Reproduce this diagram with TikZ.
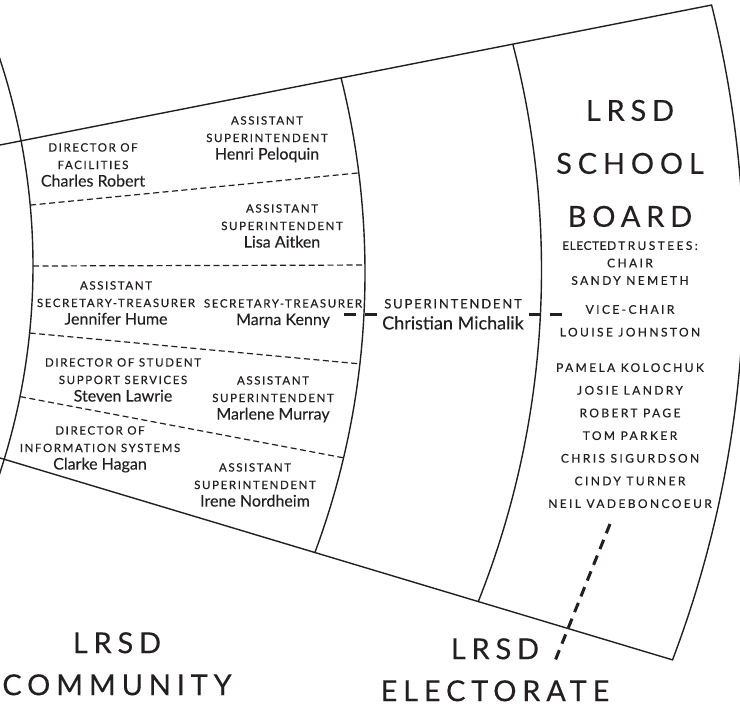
\documentclass[tikz,border=0pt]{standalone}
\usepackage{fontspec}
\usepackage{xcolor}
\usepackage{tikz}
\usetikzlibrary{calc,positioning}

\setmainfont{Lato}
\newfontfamily\capsfont[LetterSpace=14, FakeBold=0.4]{Lato}
\newfontfamily\listfont[LetterSpace=20, FakeBold=0.4]{Lato}
\newfontfamily\tightcaps[LetterSpace=4, FakeBold=0.4]{Lato}
\newfontfamily\namefont[FakeBold=0.2]{Lato}
\newfontfamily\bigfont[LetterSpace=20, FakeBold=0.2]{Lato}
\definecolor{ink}{HTML}{231F20}
\newcommand{\who}[1]{{\fontsize{16}{17.5}\namefont #1}}

\begin{document}
\begin{tikzpicture}[
	%	style def
    x=1pt, y=-1pt,
    border line/.style={line width=1.4pt, color=ink},
    split line/.style={line width=1.2pt, color=ink, dash pattern=on 6pt off 3.5pt},
    link/.style={line width=3pt, color=ink, dash pattern=on 12pt off 9pt},
    vote/.style={line width=3pt, color=ink, dash pattern=on 10pt off 7pt},
    post/.style={align=center, inner sep=0pt, anchor=north, font=\fontsize{11.5}{17.5}\capsfont},
    title/.style={align=center, inner sep=0pt, anchor=north, font=\fontsize{29}{42}\bigfont},
    every node/.style={color=ink}
    ]
    \useasboundingbox (0,0) rectangle (740,706);

	% centres of the arcs and corners of the wedge
	\coordinate (L) at (-630,266);
	\coordinate (B) at (-436,273);
	\coordinate (A) at (-356,270);
	\path (A) ++(-13.94:1100) coordinate (TR);
	\path (A) ++(20.76:1100) coordinate (BR);
	\coordinate (TL) at (0,145);
	\coordinate (BL) at (0,458);

	% outer wedge
	\draw[border line] (TL) -- (TR) arc[start angle=-13.94, end angle=20.76, radius=1100] -- (BL);
	\draw[border line] (L) ++(-19:663) arc[start angle=-19, end angle=19, radius=663];

	% inner arcs
	\begin{scope}
		\clip (TL) -- (TR) -- (BR) -- (BL) -- cycle;
		\draw[border line] (B) circle[radius=801];
		\draw[border line] (A) circle[radius=897.5];
	\end{scope}

	% dashed splits between the staff
	\begin{scope}
		\clip (B) circle[radius=801];
		\draw[split line] (L) ++(-5.27:663) -- (368,172);
		\draw[split line] (L) ++(0:663) -- (377,265);
		\draw[split line] (L) ++(5.8:663) -- (372,365);
		\draw[split line] (L) ++(11.36:663) -- (355,460);
	\end{scope}

	% staff
	\node[post] (robert) at (93,143) {DIRECTOR OF\\FACILITIES\\\who{Charles Robert}};
	\node[post] (peloquin) at (267,116) {ASSISTANT\\SUPERINTENDENT\\\who{Henri Peloquin}};
	\node[post] (aitken) at (282,204) {ASSISTANT\\SUPERINTENDENT\\\who{Lisa Aitken}};
	\node[post] (hume) at (116,281) {ASSISTANT\\SECRETARY-TREASURER\\\who{Jennifer Hume}};
	\node[post] (kenny) at (283,299) {SECRETARY-TREASURER\\\who{Marna Kenny}};
	\node[post] (lawrie) at (123,358) {DIRECTOR OF STUDENT\\SUPPORT SERVICES\\\who{Steven Lawrie}};
	\node[post] (murray) at (273,376) {ASSISTANT\\SUPERINTENDENT\\\who{Marlene Murray}};
	\node[post] (hagan) at (100,426) {DIRECTOR OF\\INFORMATION SYSTEMS\\\who{Clarke Hagan}};
	\node[post] (nordheim) at (255,463) {ASSISTANT\\SUPERINTENDENT\\\who{Irene Nordheim}};
	\node[post, outer sep=5pt, font=\fontsize{13}{21}\capsfont] (michalik) at (453,294)
		{SUPERINTENDENT\\{\fontsize{18}{21}\namefont Christian Michalik}};

	% board
	\node[title, font=\fontsize{29}{53}\bigfont] (board) at (630,99.6) {LRSD\\SCHOOL\\BOARD};
	\node[post, font=\fontsize{12}{22.67}\listfont] (trustees) at (630,241)
		{{\tightcaps ELECTED}\,TRUSTEES:\\[-5.2pt] CHAIR\\[-5.2pt] SANDY NEMETH\\[6.3pt]
		 VICE-CHAIR\\ LOUISE JOHNSTON\\[12.8pt] PAMELA KOLOCHUK\\ JOSIE LANDRY\\ ROBERT PAGE\\
		 TOM PARKER\\ CHRIS SIGURDSON\\ CINDY TURNER\\ NEIL VADEBONCOEUR};

	% outside
	\node[title] (community) at (117,632) {LRSD\\COMMUNITY};
	\node[title] (electorate) at (495,638) {LRSD\\ELECTORATE};

	% connections
	\draw[link, shorten >=-20pt] (michalik.west) -- (michalik.west -| kenny.east);
	\draw[link, shorten >=-17pt] (michalik.east) -- (michalik.east -| trustees.west);
	\coordinate (ballot) at (610,524);
	\coordinate (voters) at (555,661);
	\draw[vote] (ballot) -- (voters);

\end{tikzpicture}
\end{document}
